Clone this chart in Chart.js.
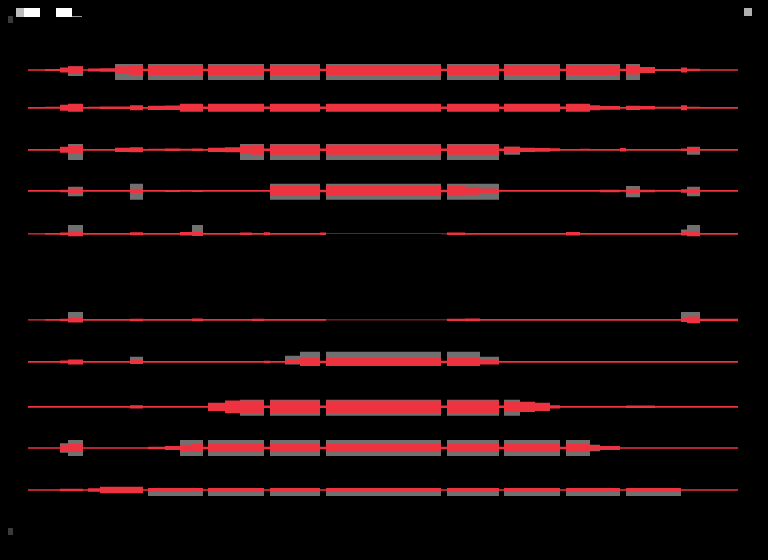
<!DOCTYPE html>
<html>
<head>
<meta charset="utf-8">
<script src="https://cdn.jsdelivr.net/npm/chart.js@4"></script>
<style>
html,body{margin:0;padding:0;background:#000;}
#wrap{width:768px;height:560px;position:relative;background:#000;}
</style>
</head>
<body>
<div id="wrap"><canvas id="c" width="768" height="560"></canvas></div>
<script>
// shared x breakpoints (each value holds until the next breakpoint)
const X = [28,45,60,68,83,88,100,115,130,143,148,165,180,192,203,208,225,240,252,264,270,285,300,320,326,441,447,465,480,499,504,520,535,550,560,566,580,590,600,620,626,640,655,681,687,700,738];

// row positions (an empty slot separates the two panels)
const SLOTS = [0,0.9,1.9,2.88,3.9,5.95,6.95,8.02,9,10];

// red band half-spread per row
const RED_1 = [0.2,0.25,0.6,0.9,0.2,0.35,0.4,0.9,1.2,0.3,1.2,1.2,1.2,1.2,0.3,1.2,1.2,1.2,1.2,0.3,1.2,1.2,1.2,0.3,1.2,0.3,1.2,1.2,1.2,0.3,1.2,1.2,1.2,1.2,0.3,1.2,1.2,1.2,1.2,0.3,1.1,0.7,0.25,0.6,0.3,0.2,0.2];
const RED_2 = [0.2,0.25,0.7,0.95,0.2,0.25,0.3,0.3,0.6,0.2,0.5,0.55,0.95,0.95,0.3,0.95,0.95,0.95,0.95,0.3,0.95,0.95,0.95,0.3,0.95,0.3,0.95,0.95,0.95,0.3,0.95,0.95,0.95,0.95,0.3,0.95,0.95,0.6,0.45,0.2,0.5,0.4,0.25,0.6,0.25,0.2,0.2];
const RED_3 = [0.2,0.2,0.7,0.9,0.2,0.2,0.2,0.5,0.6,0.2,0.25,0.3,0.25,0.3,0.2,0.5,0.6,1.0,1.2,0.3,1.2,1.2,1.2,0.3,1.2,0.3,1.2,1.2,1.2,0.3,0.7,0.5,0.45,0.35,0.2,0.2,0.25,0.2,0.2,0.4,0.2,0.2,0.2,0.3,0.6,0.2,0.2];
const RED_4 = [0.2,0.2,0.3,0.6,0.2,0.2,0.2,0.2,0.5,0.2,0.2,0.25,0.2,0.25,0.2,0.2,0.2,0.2,0.2,0.2,1.2,1.2,1.2,0.3,1.2,0.3,1.2,0.9,0.6,0.2,0.2,0.2,0.2,0.2,0.2,0.2,0.2,0.2,0.3,0.2,0.5,0.3,0.2,0.4,0.5,0.2,0.2];
const RED_5 = [0.15,0.2,0.3,0.6,0.2,0.2,0.2,0.2,0.35,0.2,0.2,0.2,0.4,0.55,0.2,0.2,0.2,0.3,0.2,0.35,0.2,0.2,0.2,0.3,0.05,0.1,0.3,0.2,0.2,0.2,0.2,0.2,0.2,0.2,0.2,0.4,0.2,0.2,0.2,0.2,0.2,0.2,0.2,0.4,0.6,0.2,0.15];
const RED_6 = [0.15,0.2,0.3,0.6,0.2,0.2,0.2,0.2,0.3,0.2,0.2,0.2,0.2,0.35,0.2,0.2,0.2,0.2,0.25,0.2,0.2,0.2,0.2,0.2,0.08,0.1,0.25,0.35,0.2,0.2,0.2,0.2,0.2,0.2,0.2,0.2,0.2,0.2,0.2,0.2,0.2,0.2,0.2,0.5,0.8,0.3,0.15];
const RED_7 = [0.2,0.2,0.35,0.6,0.2,0.2,0.2,0.2,0.5,0.2,0.2,0.2,0.2,0.2,0.2,0.2,0.2,0.2,0.2,0.3,0.2,0.5,0.9,0.3,0.95,0.3,0.95,0.95,0.6,0.2,0.2,0.2,0.2,0.2,0.2,0.2,0.2,0.2,0.2,0.2,0.2,0.2,0.2,0.2,0.2,0.2,0.2];
const RED_8 = [0.2,0.2,0.2,0.2,0.2,0.2,0.2,0.2,0.4,0.2,0.2,0.2,0.2,0.2,0.2,1.0,1.5,1.5,1.5,0.3,1.5,1.5,1.5,0.3,1.5,0.3,1.5,1.5,1.5,0.3,1.2,1.2,1.0,0.4,0.2,0.2,0.2,0.2,0.2,0.2,0.3,0.3,0.2,0.2,0.2,0.2,0.2];
const RED_9 = [0.2,0.2,0.8,0.95,0.2,0.2,0.2,0.2,0.2,0.2,0.3,0.5,0.8,0.95,0.3,0.95,0.95,0.95,0.95,0.3,0.95,0.95,0.95,0.3,0.95,0.3,0.95,0.95,0.95,0.3,0.95,0.95,0.95,0.95,0.3,0.95,0.95,0.6,0.5,0.2,0.2,0.2,0.2,0.2,0.2,0.2,0.2];
const RED_10 = [0.2,0.2,0.3,0.3,0.2,0.4,0.8,0.8,0.8,0.2,0.5,0.5,0.5,0.5,0.2,0.5,0.5,0.5,0.5,0.2,0.5,0.5,0.5,0.2,0.5,0.2,0.5,0.5,0.5,0.2,0.5,0.5,0.5,0.5,0.2,0.5,0.5,0.5,0.5,0.2,0.5,0.5,0.5,0.2,0.2,0.2,0.2];

// grey range presence per row (0 = none, 1 = full extent)
const GRAY_1 = [0,0,0,0.6,0,0,0,1,1,0,1,1,1,1,0,1,1,1,1,0,1,1,1,0,1,0,1,1,1,0,1,1,1,1,0,1,1,1,1,0,1,0,0,0,0,0,0];
const GRAY_2 = [0,0,0,0,0,0,0,0,0,0,0,0,0,0,0,0,0,0,0,0,0,0,0,0,0,0,0,0,0,0,0,0,0,0,0,0,0,0,0,0,0,0,0,0,0,0,0];
const GRAY_3 = [0,0,0,1,0,0,0,0,0,0,0,0,0,0,0,0,0,1,1,0,1,1,1,0,1,0,1,1,1,0,0.5,0,0,0,0,0,0,0,0,0,0,0,0,0,0.5,0,0];
const GRAY_4 = [0,0,0,0.6,0,0,0,0,1,0,0,0,0,0,0,0,0,0,0,0,1,1,1,0,1,0,1,1,1,0,0,0,0,0,0,0,0,0,0,0,0.7,0,0,0,0.6,0,0];
const GRAY_5 = [0,0,0,1,0,0,0,0,0,0,0,0,0,1,0,0,0,0,0,0,0,0,0,0,0,0,0,0,0,0,0,0,0,0,0,0,0,0,0,0,0,0,0,0.5,1,0,0];
const GRAY_6 = [0,0,0,1,0,0,0,0,0,0,0,0,0,0,0,0,0,0,0,0,0,0,0,0,0,0,0,0,0,0,0,0,0,0,0,0,0,0,0,0,0,0,0,1,1,0,0];
const GRAY_7 = [0,0,0,0,0,0,0,0,0.5,0,0,0,0,0,0,0,0,0,0,0,0,0.6,1,0,1,0,1,1,0.5,0,0,0,0,0,0,0,0,0,0,0,0,0,0,0,0,0,0];
const GRAY_8 = [0,0,0,0,0,0,0,0,0,0,0,0,0,0,0,0,0,1,1,0,1,1,1,0,1,0,1,1,1,0,1,0.5,0,0,0,0,0,0,0,0,0,0,0,0,0,0,0];
const GRAY_9 = [0,0,0.6,1,0,0,0,0,0,0,0,0,1,1,0,1,1,1,1,0,1,1,1,0,1,0,1,1,1,0,1,1,1,1,0,1,1,0.4,0,0,0,0,0,0,0,0,0];
const GRAY_10 = [0,0,0,0,0,0,0,0.5,0.5,0,1,1,1,1,0,1,1,1,1,0,1,1,1,0,1,0,1,1,1,0,1,1,1,1,0,1,1,1,1,0,1,1,1,0,0,0,0];

// grey range extent per row [above, below] relative to the row centre
const GRAY_EXT = [[-1.4,2.4],[-1,1],[-1.4,2.4],[-1.7,2.1],[-2.1,0],[-1.9,0],[-2.4,1.0],[-1.7,2.1],[-1.9,1.9],[-0.5,1.4]];

const REDS = [RED_1,RED_2,RED_3,RED_4,RED_5,RED_6,RED_7,RED_8,RED_9,RED_10];
const GRAYS = [GRAY_1,GRAY_2,GRAY_3,GRAY_4,GRAY_5,GRAY_6,GRAY_7,GRAY_8,GRAY_9,GRAY_10];

const RED = '#ee3340';
const GREY = '#707070';

const datasets = [];
SLOTS.forEach((slot, r) => {
  const c = slot * 10;
  const g = GRAYS[r], ext = GRAY_EXT[r], red = REDS[r];
  const base = {borderWidth:0, pointRadius:0, stepped:true, tension:0};
  datasets.push(Object.assign({}, base, {order:2, fill:false, data: X.map((x,i)=>({x, y: c + g[i]*ext[0]}))}));
  datasets.push(Object.assign({}, base, {order:2, fill:'-1', backgroundColor:GREY, data: X.map((x,i)=>({x, y: c + g[i]*ext[1]}))}));
  datasets.push(Object.assign({}, base, {order:1, fill:false, data: X.map((x,i)=>({x, y: c - red[i]}))}));
  datasets.push(Object.assign({}, base, {order:1, fill:'-1', backgroundColor:RED, data: X.map((x,i)=>({x, y: c + red[i]}))}));
});

const marks = {
  id: 'marks',
  beforeDraw(chart) {
    const ctx = chart.ctx;
    ctx.save();
    ctx.fillStyle = '#000';
    ctx.fillRect(0, 0, chart.width, chart.height);
    ctx.restore();
  },
  afterDraw(chart) {
    const ctx = chart.ctx;
    ctx.save();
    ctx.fillStyle = '#bdbdbd'; ctx.fillRect(16, 8, 8, 9);
    ctx.fillStyle = '#ffffff'; ctx.fillRect(24, 8, 16, 9);
    ctx.fillStyle = '#ffffff'; ctx.fillRect(56, 8, 16, 9);
    ctx.fillStyle = '#9a9a9a'; ctx.fillRect(72, 16, 10, 1);
    ctx.fillStyle = '#3a3a3a'; ctx.fillRect(8, 16, 5, 7);
    ctx.fillStyle = '#b0b0b0'; ctx.fillRect(744, 8, 8, 8);
    ctx.fillStyle = '#3a3a3a'; ctx.fillRect(8, 528, 5, 7);
    ctx.restore();
  }
};

new Chart(document.getElementById('c'), {
  type: 'line',
  data: { datasets },
  plugins: [marks],
  options: {
    responsive: false,
    animation: false,
    layout: { padding: { left: 28, right: 30, top: 28, bottom: 28 } },
    plugins: { legend: { display: false }, tooltip: { enabled: false }, title: { display: false } },
    scales: {
      x: { type: 'linear', min: X[0], max: X[X.length-1], display: false },
      y: { type: 'linear', min: -10, max: 110, reverse: true, display: false }
    }
  }
});
</script>
</body>
</html>
